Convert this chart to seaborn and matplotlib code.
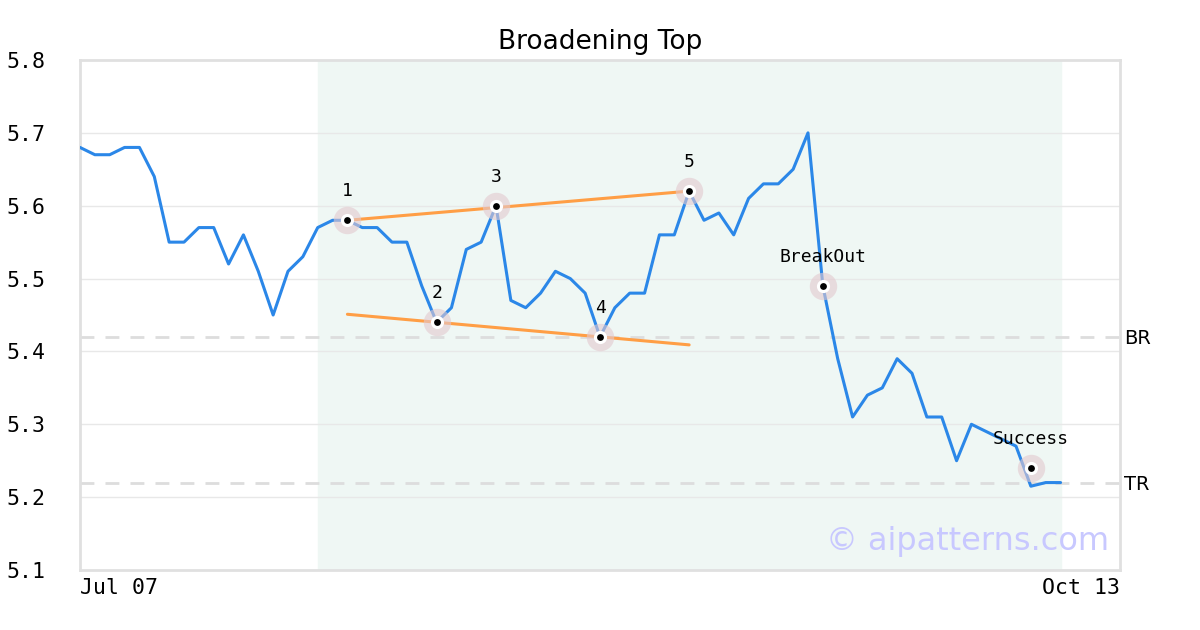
import numpy as np
import pandas as pd
import matplotlib
matplotlib.use("Agg")
import matplotlib.pyplot as plt
import seaborn as sns

# price series (one value per trading day, Jul 07 -> early Oct)
prices = [5.68, 5.67, 5.67, 5.68, 5.68, 5.64, 5.55, 5.55, 5.57, 5.57,
          5.52, 5.56, 5.51, 5.45, 5.51, 5.53, 5.57, 5.58, 5.58, 5.57,
          5.57, 5.55, 5.55, 5.49, 5.44, 5.46, 5.54, 5.55, 5.60, 5.47,
          5.46, 5.48, 5.51, 5.50, 5.48, 5.42, 5.46, 5.48, 5.48, 5.56,
          5.56, 5.62, 5.58, 5.59, 5.56, 5.61, 5.63, 5.63, 5.65, 5.70,
          5.49, 5.39, 5.31, 5.34, 5.35, 5.39, 5.37, 5.31, 5.31, 5.25,
          5.30, 5.29, 5.28, 5.27, 5.215, 5.22, 5.22]

# pattern points
point_labels = ["1", "2", "3", "4", "5", "BreakOut", "Success"]
point_idx = [18, 24, 28, 35, 41, 50, 64]
point_vals = [5.58, 5.44, 5.60, 5.42, 5.62, 5.49, 5.24]

# trend lines of the broadening formation
upper_idx = [18, 41]
upper_vals = [5.58, 5.62]
lower_idx = [18, 41]
lower_vals = [5.451, 5.409]

# reference levels
level_names = ["BR", "TR"]
level_vals = [5.42, 5.22]

pattern_start, pattern_end = 16, 66
x_labels = ["Jul 07", "Oct 13"]
y_ticks = [5.1, 5.2, 5.3, 5.4, 5.5, 5.6, 5.7, 5.8]

df = pd.DataFrame({"day": np.arange(len(prices)), "price": prices})

sns.set_style("white")
plt.rcParams["font.family"] = ["DejaVu Sans"]
plt.rcParams["text.color"] = "black"
plt.rcParams["xtick.color"] = "black"
plt.rcParams["ytick.color"] = "black"
mono = "DejaVu Sans Mono"

fig = plt.figure(figsize=(12, 6.3), dpi=100)
ax = fig.add_axes([80 / 1200, 60 / 630, 1040 / 1200, 510 / 630])

ax.axvspan(pattern_start, pattern_end, color="#eff7f4", zorder=0)
for v in y_ticks[1:-1]:
    ax.axhline(v, color="#e8e8e8", lw=1, zorder=1)
for v in level_vals:
    ax.axhline(v, color="#dddddd", lw=2, ls=(0, (5, 4)), zorder=1)

sns.lineplot(data=df, x="day", y="price", ax=ax, color="#2b87e8", lw=2.2, zorder=3)
ax.plot(upper_idx, upper_vals, color="#ff9e45", lw=2.2, zorder=2)
ax.plot(lower_idx, lower_vals, color="#ff9e45", lw=2.2, zorder=2)

ax.scatter(point_idx, point_vals, s=390, color="#e3c9cf", alpha=0.6, lw=0, zorder=4)
ax.scatter(point_idx, point_vals, s=90, color="white", lw=0, zorder=5)
ax.scatter(point_idx, point_vals, s=24, color="black", lw=0, zorder=6)
for lab, i, v in zip(point_labels, point_idx, point_vals):
    ax.annotate(lab, (i, v), xytext=(0, 21), textcoords="offset points",
                ha="center", va="center", fontsize=13, family=mono, zorder=7)

for name, v in zip(level_names, level_vals):
    ax.text(1.004, v, name, transform=ax.get_yaxis_transform(),
            ha="left", va="center_baseline", fontsize=14)

ax.text(0.99, 0.055, "\u00a9 aipatterns.com", transform=ax.transAxes,
        ha="right", va="center", fontsize=23, color="#c8c8ff", zorder=8)

ax.set_xlim(0, 70)
ax.set_ylim(5.1, 5.8)
ax.set_yticks(y_ticks)
ax.set_yticklabels([f"{v:.1f}" for v in y_ticks], family=mono, fontsize=15.5)
ax.set_xticks([0, 70])
ax.set_xticklabels(x_labels, family=mono, fontsize=15.5)
ax.get_xticklabels()[0].set_ha("left")
ax.get_xticklabels()[1].set_ha("right")
ax.tick_params(axis="y", length=0, pad=25)
ax.tick_params(axis="x", length=0, pad=6)
ax.set_xlabel("")
ax.set_ylabel("")
for sp in ax.spines.values():
    sp.set_visible(True)
    sp.set_color("#e0e0e0")
    sp.set_linewidth(2)

ax.set_title("Broadening Top", fontsize=19, pad=8)

fig.savefig("out.png", dpi=100)
